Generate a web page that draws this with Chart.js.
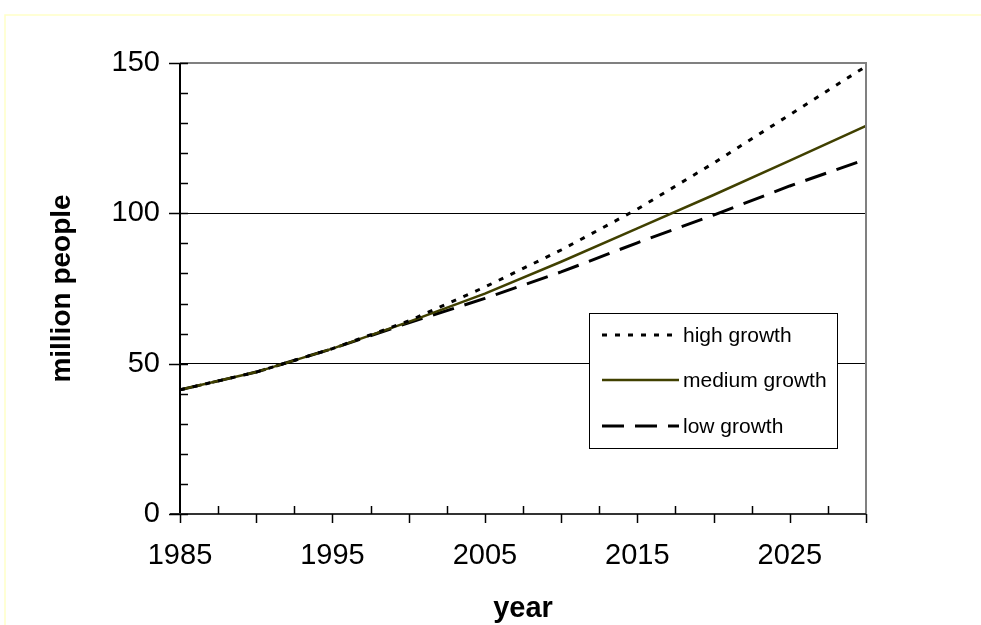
<!DOCTYPE html>
<html>
<head>
<meta charset="utf-8">
<script src="https://cdn.jsdelivr.net/npm/chart.js@4"></script>
<style>
    html, body { margin: 0; padding: 0; background: #fff; }
    canvas { display: block; }
</style>
</head>
<body>
<canvas id="myChart" width="981" height="625"></canvas>
<script>
// values, every 5 years
const years = [1985, 1990, 1995, 2000, 2005, 2010, 2015, 2020, 2025, 2030];
const highGrowth = [41.3, 47.2, 55.0, 64.2, 75.5, 87.8, 101.4, 116.7, 132.8, 148.9];
const mediumGrowth = [41.3, 47.2, 55.0, 63.9, 73.3, 83.9, 95.0, 106.1, 117.5, 129.1];
const lowGrowth = [41.3, 47.2, 55.0, 63.6, 71.7, 80.5, 90.2, 99.4, 109.1, 118.0];
const seriesNames = ["high growth", "medium growth", "low growth"];
const yLabels = [0, 50, 100, 150];
const xLabels = [1985, 1995, 2005, 2015, 2025];

const fontName = "'Liberation Sans', Arial, sans-serif";

function toPoints(vals) {
    return years.map((y, i) => ({ x: y, y: vals[i] }));
}

// frame, ticks and the legend box
const extras = {
    id: 'extras',
    beforeDraw(chart) {
        const c = chart.ctx;
        c.save();
        c.fillStyle = '#fff';
        c.fillRect(0, 0, chart.width, chart.height);
        c.strokeStyle = '#ffffc8';
        c.lineWidth = 1.5;
        c.strokeRect(5, 15, chart.width + 20, chart.height + 20);
        c.restore();
    },
    afterDatasetsDraw(chart) {
        const c = chart.ctx;
        const xs = chart.scales.x;
        const ys = chart.scales.y;
        const a = chart.chartArea;
        c.save();

        // plot border (grey) on top and right
        c.strokeStyle = '#808080';
        c.lineWidth = 2;
        c.beginPath();
        c.moveTo(a.left, a.top);
        c.lineTo(a.right, a.top);
        c.lineTo(a.right, a.bottom);
        c.stroke();

        // axes
        c.strokeStyle = '#000';
        c.lineWidth = 2;
        c.beginPath();
        c.moveTo(a.left, a.top);
        c.lineTo(a.left, a.bottom);
        c.stroke();
        c.strokeStyle = '#333';
        c.beginPath();
        c.moveTo(a.left - 10, a.bottom);
        c.lineTo(a.right, a.bottom);
        c.stroke();

        // y ticks
        c.lineWidth = 1.5;
        c.strokeStyle = '#000';
        for (let v = 0; v <= 150; v += 10) {
            const py = Math.round(ys.getPixelForValue(v)) + 0.5;
            c.beginPath();
            c.moveTo(v % 50 === 0 ? a.left - 11 : a.left, py);
            c.lineTo(a.left + 8, py);
            c.stroke();
        }
        // x ticks: major down, minor up
        for (let yr = 1985; yr <= 2030; yr += 2.5) {
            const px = Math.round(xs.getPixelForValue(yr)) + 0.5;
            c.beginPath();
            if ((yr - 1985) % 5 === 0) {
                c.moveTo(px, a.bottom);
                c.lineTo(px, a.bottom + 9);
            } else {
                c.moveTo(px, a.bottom - 8);
                c.lineTo(px, a.bottom);
            }
            c.stroke();
        }

        // legend
        const bx = 589.5, by = 313.5, bw = 248, bh = 135;
        c.fillStyle = '#fff';
        c.fillRect(bx, by, bw, bh);
        c.strokeStyle = '#000';
        c.lineWidth = 1;
        c.strokeRect(bx, by, bw, bh);
        const rows = [335, 380, 426];
        chart.data.datasets.forEach((ds, i) => {
            c.strokeStyle = ds.borderColor;
            c.lineWidth = ds.borderWidth;
            c.setLineDash(ds.borderDash || []);
            c.beginPath();
            c.moveTo(602, rows[i]);
            c.lineTo(679, rows[i]);
            c.stroke();
            c.setLineDash([]);
            c.fillStyle = '#000';
            c.font = '21px ' + fontName;
            c.textBaseline = 'middle';
            c.textAlign = 'left';
            c.fillText(ds.label, 683, rows[i] + 1);
        });
        c.restore();
    }
};

new Chart("myChart", {
    type: "line",
    data: {
        datasets: [{
            label: seriesNames[0],
            data: toPoints(highGrowth),
            borderColor: '#000',
            borderWidth: 3,
            borderDash: [5, 8],
            pointRadius: 0,
            fill: false
        }, {
            label: seriesNames[1],
            data: toPoints(mediumGrowth),
            borderColor: '#404000',
            borderWidth: 2.5,
            pointRadius: 0,
            fill: false
        }, {
            label: seriesNames[2],
            data: toPoints(lowGrowth),
            borderColor: '#000',
            borderWidth: 3,
            borderDash: [22, 11],
            pointRadius: 0,
            fill: false
        }]
    },
    options: {
        responsive: false,
        animation: false,
        layout: { padding: { left: 0, top: 63, right: 115, bottom: 0 } },
        plugins: {
            legend: { display: false },
            tooltip: { enabled: false }
        },
        scales: {
            x: {
                type: 'linear',
                min: 1985,
                max: 2030,
                afterFit: (s) => { s.height = 111; },
                grid: { display: false, drawTicks: false },
                border: { display: false },
                ticks: {
                    stepSize: 5,
                    padding: 25,
                    color: '#000',
                    font: { family: fontName, size: 29 },
                    maxRotation: 0,
                    autoSkip: false,
                    callback: (v) => xLabels.includes(v) ? String(v) : ''
                },
                title: {
                    display: true,
                    text: 'year',
                    color: '#000',
                    font: { family: fontName, size: 29, weight: 'bold', lineHeight: 1.1 },
                    padding: { top: 0, bottom: 0 }
                }
            },
            y: {
                min: 0,
                max: 150,
                afterFit: (s) => { s.width = 180; },
                grid: {
                    drawTicks: false,
                    lineWidth: 1,
                    color: (ctx) => (ctx.tick && (ctx.tick.value === 50 || ctx.tick.value === 100)) ? '#000' : 'rgba(0,0,0,0)'
                },
                border: { display: false },
                ticks: {
                    stepSize: 10,
                    padding: 20,
                    color: '#000',
                    font: { family: fontName, size: 29 },
                    autoSkip: false,
                    callback: (v) => yLabels.includes(v) ? String(v) : ''
                },
                title: {
                    display: true,
                    text: 'million people',
                    color: '#000',
                    font: { family: fontName, size: 28, weight: 'bold', lineHeight: 1.2 },
                    padding: { top: 45, bottom: 0 }
                }
            }
        }
    },
    plugins: [extras]
});
</script>
</body>
</html>
